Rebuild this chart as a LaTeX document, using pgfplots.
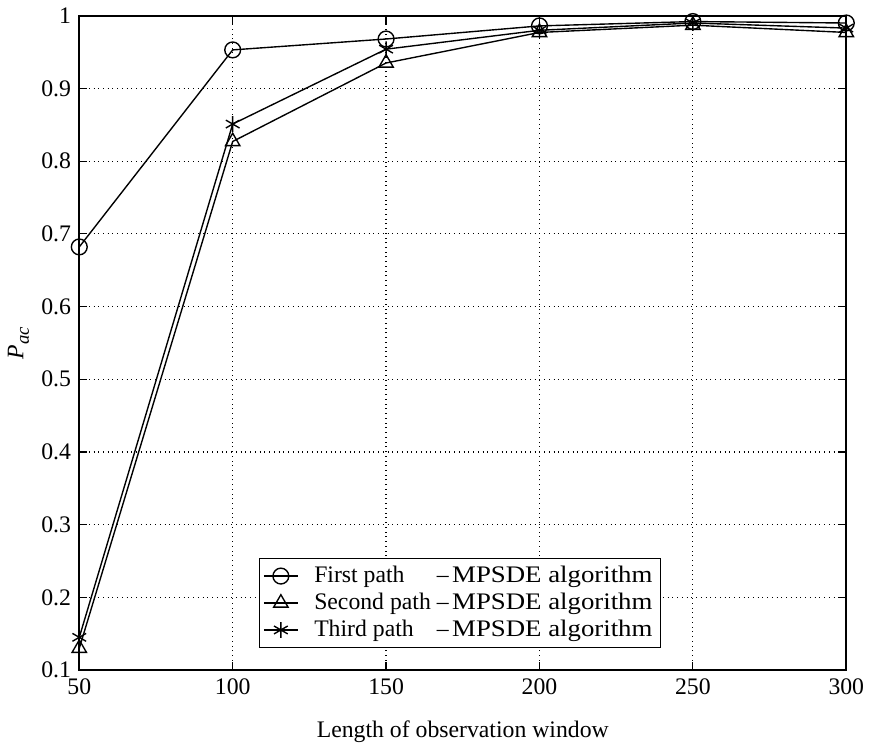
\documentclass[border=0pt]{standalone}
\usepackage{fontspec}
\setmainfont{Liberation Serif}
\usepackage{calc}
\usepackage{graphicx}
\usepackage{pgfplots}
\pgfplotsset{compat=1.18}
\newcommand{\lp}[1]{\hspace{0.5em}\makebox[\widthof{Second path}+0.25em][l]{#1}--\hspace{0.15em}\scalebox{1.13}[1]{MPSDE algorithm}\hspace{0.2em}}
\begin{document}
\fontsize{12pt}{14pt}\selectfont
\begin{tikzpicture}
\begin{axis}[
  scale only axis,
  width=388pt, height=331pt,
  xmin=50, xmax=300, ymin=0.1, ymax=1,
  xtick={50,100,...,300},
  ytick={0.1,0.2,...,1.0},
  yticklabels={0.1,0.2,0.3,0.4,0.5,0.6,0.7,0.8,0.9,1},
  /pgf/number format/assume math mode=true,
  tick label style={font=\fontsize{12pt}{14pt}\selectfont},
  label style={font=\fontsize{12pt}{14pt}\selectfont},
  grid=major,
  major grid style={dotted, black, line width=0.6pt},
  tick align=inside,
  major tick length=4pt,
  axis line style={line width=0.9pt},
  every tick/.style={black, line width=0.6pt},
  xlabel={Length of observation window},
  ylabel={\textit{P}\raisebox{-0.5ex}{\fontsize{9.5pt}{10pt}\selectfont\textit{ac}}},
  xlabel style={yshift=-5pt},
  ylabel style={yshift=-2pt},
  legend style={at={(rel axis cs:0.234,0.033)}, anchor=south west,
     draw=black, line width=0.6pt, font=\fontsize{12pt}{14pt}\selectfont,
     cells={anchor=west}, row sep=-0.5pt, inner sep=2pt},
  legend cell align=left,
]
\addplot[black, line width=0.7pt, mark=o, mark size=4pt, mark options={solid}] coordinates {(50,0.682) (100,0.953) (150,0.968) (200,0.986) (250,0.992) (300,0.990)};
\addlegendentry{\lp{First path}}
\addplot[black, line width=0.7pt, mark=triangle, mark size=4.2pt, mark options={solid}] coordinates {(50,0.130) (100,0.827) (150,0.935) (200,0.977) (250,0.987) (300,0.977)};
\addlegendentry{\lp{Second path}}
\addplot[black, line width=0.7pt, mark=asterisk, mark size=4pt, mark options={solid}] coordinates {(50,0.145) (100,0.851) (150,0.954) (200,0.980) (250,0.990) (300,0.983)};
\addlegendentry{\lp{Third path}}
\end{axis}
\end{tikzpicture}
\end{document}
